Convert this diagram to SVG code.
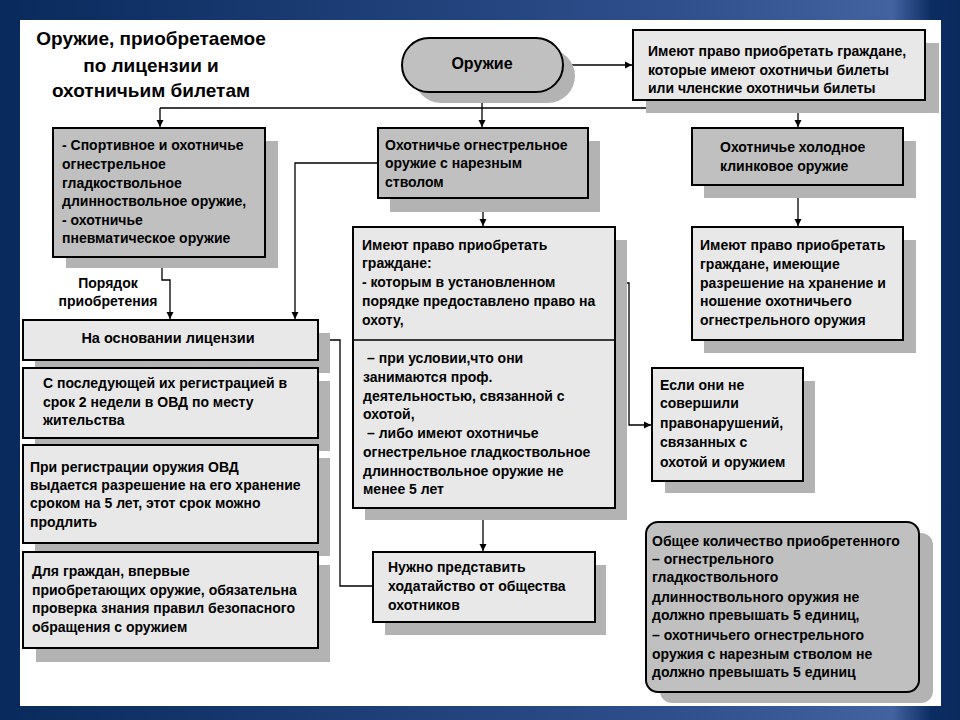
<svg xmlns="http://www.w3.org/2000/svg" width="960" height="720" viewBox="0 0 960 720">
<defs>
<linearGradient id="bg" x1="0" y1="0" x2="1" y2="0">
<stop offset="0" stop-color="#082a5c"/>
<stop offset="0.7" stop-color="#2e4f8c"/>
<stop offset="0.93" stop-color="#4262a0"/>
<stop offset="0.97" stop-color="#0c2d62"/>
<stop offset="1" stop-color="#0a2a5c"/>
</linearGradient>
<marker id="ar" markerWidth="8" markerHeight="8" refX="7" refY="4" orient="auto" markerUnits="userSpaceOnUse">
<path d="M0,0.5 L7,4 L0,7.5 z" fill="#000"/>
</marker>
<style>
.dk{fill:#c0c0c0;stroke:#000;stroke-width:2}
.lt{fill:#e8e8e8;stroke:#000;stroke-width:2}
.sh{fill:#b3b3b3}
.t{font-family:"Liberation Sans",Arial,sans-serif;font-size:14px;font-weight:bold;fill:#000}
.ti{font-family:"Liberation Sans",Arial,sans-serif;font-size:19px;font-weight:bold;fill:#000;text-anchor:middle}
.c{stroke:#000;stroke-width:1.3;fill:none}
.ca{stroke:#000;stroke-width:1.3;fill:none;marker-end:url(#ar)}
</style>
</defs>
<rect x="0" y="0" width="960" height="720" fill="url(#bg)"/>
<rect x="0" y="0" width="20" height="720" fill="#082a5c"/>
<rect x="20" y="20" width="921" height="686" fill="#ffffff"/>

<g id="title">
<text class="ti" x="151" y="45">Оружие, приобретаемое</text>
<text class="ti" x="151" y="72">по лицензии и</text>
<text class="ti" x="151" y="97">охотничьим билетам</text>
</g>

<g id="connectors">
<path class="ca" d="M563,65 H632"/>
<path class="c" d="M160,108 H798"/>
<path class="ca" d="M160,108 V127"/>
<path class="ca" d="M482,92 V127"/>
<path class="ca" d="M798,108 V127"/>
<path class="ca" d="M162,257 V280 H170 V319"/>
<path class="ca" d="M377,163 H295 V319"/>
<path class="ca" d="M483,198 V226"/>
<path class="ca" d="M798,185 V226"/>
<path class="ca" d="M615,283 H629 V425 H651"/>
<path class="ca" d="M483,508 V551"/>
<path class="ca" d="M373,586 H340 V340 H319"/>
</g>

<g id="oruzhie">
<rect class="sh" x="414" y="49" width="161" height="54" rx="27"/>
<rect class="dk" x="402" y="38" width="161" height="54" rx="27"/>
<text class="t" x="482" y="69" text-anchor="middle" style="font-size:16px">Оружие</text>
</g>

<g id="bilety">
<rect class="sh" x="646" y="43" width="293" height="70"/>
<rect class="lt" x="633" y="30" width="292" height="70"/>
<text class="t" x="648" y="56">Имеют право приобретать граждане,</text>
<text class="t" x="648" y="75">которые имеют охотничьи  билеты</text>
<text class="t" x="648" y="93">или членские охотничьи билеты</text>
</g>

<g id="sport">
<rect class="sh" x="66" y="141" width="212" height="127"/>
<rect class="dk" x="53" y="128" width="212" height="129"/>
<text class="t" x="62" y="150">- Спортивное и охотничье</text>
<text class="t" x="62" y="169">огнестрельное</text>
<text class="t" x="62" y="188">гладкоствольное</text>
<text class="t" x="62" y="206">длинноствольное оружие,</text>
<text class="t" x="62" y="225">- охотничье</text>
<text class="t" x="62" y="243">пневматическое оружие</text>
</g>

<g id="poryadok">
<text class="t" x="108" y="288" text-anchor="middle">Порядок</text>
<text class="t" x="108" y="306" text-anchor="middle">приобретения</text>
</g>

<g id="narez">
<rect class="sh" x="390" y="141" width="210" height="71"/>
<rect class="dk" x="378" y="128" width="210" height="70"/>
<text class="t" x="385" y="150">Охотничье огнестрельное</text>
<text class="t" x="385" y="168">оружие с нарезным</text>
<text class="t" x="385" y="187">стволом</text>
</g>

<g id="holod">
<rect class="sh" x="704" y="141" width="212" height="57"/>
<rect class="dk" x="692" y="128" width="211" height="57"/>
<text class="t" x="720" y="152">Охотничье холодное</text>
<text class="t" x="720" y="171">клинковое оружие</text>
</g>

<g id="pravo-narez">
<rect class="sh" x="365" y="240" width="262" height="280"/>
<rect class="lt" x="353" y="227" width="262" height="281"/>
<line x1="353" y1="340" x2="615" y2="340" stroke="#000" stroke-width="1.3"/>
<text class="t" x="362" y="250">Имеют право приобретать</text>
<text class="t" x="362" y="268">граждане:</text>
<text class="t" x="362" y="287">- которым в установленном</text>
<text class="t" x="362" y="306">порядке предоставлено право на</text>
<text class="t" x="362" y="325">охоту,</text>
<text class="t" x="367" y="363">– при условии,что они</text>
<text class="t" x="363" y="382">занимаются проф.</text>
<text class="t" x="363" y="401">деятельностью, связанной с</text>
<text class="t" x="363" y="419">охотой,</text>
<text class="t" x="367" y="438">– либо имеют охотничье</text>
<text class="t" x="363" y="457">огнестрельное гладкоствольное</text>
<text class="t" x="363" y="476">длинноствольное оружие не</text>
<text class="t" x="363" y="494">менее 5 лет</text>
</g>

<g id="pravo-holod">
<rect class="sh" x="704" y="240" width="212" height="113"/>
<rect class="lt" x="692" y="227" width="211" height="113"/>
<text class="t" x="700" y="250">Имеют право приобретать</text>
<text class="t" x="700" y="269">граждане, имеющие</text>
<text class="t" x="700" y="288">разрешение на хранение и</text>
<text class="t" x="700" y="306">ношение охотничьего</text>
<text class="t" x="700" y="325">огнестрельного оружия</text>
</g>

<g id="license">
<rect class="sh" x="35" y="333" width="295" height="40"/>
<rect class="lt" x="23" y="320" width="295" height="40"/>
<text class="t" x="168" y="343" text-anchor="middle" style="font-size:14.5px">На основании лицензии</text>
</g>

<g id="registr">
<rect class="sh" x="35" y="381" width="295" height="70"/>
<rect class="lt" x="23" y="368" width="295" height="70"/>
<text class="t" x="43" y="388">С последующей их регистрацией в</text>
<text class="t" x="43" y="407">срок 2 недели в ОВД по месту</text>
<text class="t" x="43" y="425">жительства</text>
</g>

<g id="ovd">
<rect class="sh" x="35" y="458" width="295" height="98"/>
<rect class="lt" x="23" y="445" width="295" height="98"/>
<text class="t" x="30" y="472">При регистрации  оружия ОВД</text>
<text class="t" x="30" y="490">выдается разрешение на его хранение</text>
<text class="t" x="30" y="508">сроком на 5 лет, этот срок можно</text>
<text class="t" x="30" y="527">продлить</text>
</g>

<g id="proverka">
<rect class="sh" x="36" y="565" width="294" height="97"/>
<rect class="lt" x="23" y="552" width="295" height="96"/>
<text class="t" x="32" y="576">Для граждан, впервые</text>
<text class="t" x="32" y="595">приобретающих оружие, обязательна</text>
<text class="t" x="32" y="613">проверка знания правил безопасного</text>
<text class="t" x="32" y="632">обращения с оружием</text>
</g>

<g id="esli">
<rect class="sh" x="665" y="381" width="150" height="112"/>
<rect class="lt" x="652" y="368" width="151" height="113"/>
<text class="t" x="660" y="390">Если они не</text>
<text class="t" x="660" y="408">совершили</text>
<text class="t" x="660" y="428">правонарушений,</text>
<text class="t" x="660" y="447">связанных с</text>
<text class="t" x="660" y="467">охотой и оружием</text>
</g>

<g id="hodatay">
<rect class="sh" x="385" y="565" width="221" height="70"/>
<rect class="lt" x="373" y="552" width="222" height="70"/>
<text class="t" x="388" y="572">Нужно представить</text>
<text class="t" x="388" y="591">ходатайство от общества</text>
<text class="t" x="388" y="610">охотников</text>
</g>

<g id="kolichestvo">
<rect class="sh" x="660" y="533" width="273" height="170" rx="12"/>
<rect class="dk" x="646" y="522" width="273" height="170" rx="12"/>
<text class="t" x="652" y="546">Общее количество приобретенного</text>
<text class="t" x="652" y="564">– огнестрельного</text>
<text class="t" x="652" y="582">гладкоствольного</text>
<text class="t" x="652" y="602">длинноствольного оружия не</text>
<text class="t" x="652" y="620">должно превышать 5 единиц,</text>
<text class="t" x="652" y="640">– охотничьего огнестрельного</text>
<text class="t" x="652" y="659">оружия с нарезным стволом не</text>
<text class="t" x="652" y="677">должно превышать 5 единиц</text>
</g>
</svg>
